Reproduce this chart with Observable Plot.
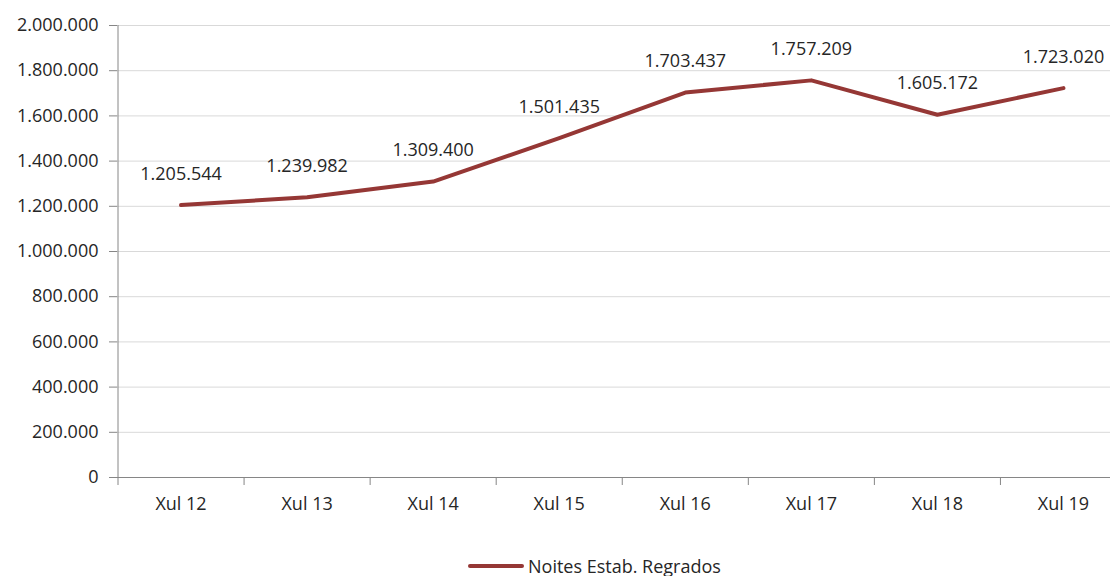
<!DOCTYPE html>
<html><head><meta charset="utf-8">
<script src="https://cdn.jsdelivr.net/npm/d3@7"></script>
<script src="https://cdn.jsdelivr.net/npm/@observablehq/plot@0.6"></script>
<style>
body{margin:0;background:#fff;font-family:"Open Sans",sans-serif;}
#legend{display:flex;align-items:center;margin-left:468px;margin-top:36px;height:20px;font-size:18px;color:#262626;}
#legend span{margin-left:4px;}
</style></head><body>
<div id="chart"></div>
<div id="legend"><svg width="56" height="8"><line x1="2" y1="4" x2="54" y2="4" stroke="#953735" stroke-width="4" stroke-linecap="round"/></svg><span>Noites Estab. Regrados</span></div>
<script>
const categories = ["Xul 12","Xul 13","Xul 14","Xul 15","Xul 16","Xul 17","Xul 18","Xul 19"];
const values = [1205544, 1239982, 1309400, 1501435, 1703437, 1757209, 1605172, 1723020];
const yTicks = [0,200000,400000,600000,800000,1000000,1200000,1400000,1600000,1800000,2000000];
const seriesName = "Noites Estab. Regrados";

const pt = d3.formatLocale({decimal:",", thousands:".", grouping:[3], currency:["",""]});
const fmt = pt.format(",");
const data = categories.map((c,i)=>({i, c, v: values[i]}));
const boundaries = d3.range(categories.length+1).map(k=>k-0.5);

const chart = Plot.plot({
  width: 1110,
  height: 520,
  marginTop: 25,
  marginBottom: 43,
  marginLeft: 117,
  marginRight: 0,
  style: {fontFamily:"Open Sans, sans-serif", fontSize:"18px", color:"#262626", background:"#fff"},
  x: {type:"linear", domain:[-0.5, categories.length-0.5], range:[117.5, 1126]},
  y: {domain:[0, 2000000]},
  marks: [
    Plot.gridY(yTicks, {stroke:"#d9d9d9", strokeOpacity:1}),
    Plot.axisY(yTicks, {tickSize:8, tickPadding:11, tickFormat:fmt, stroke:"#868686", fontSize:18, label:null}),
    Plot.axisX(boundaries, {tickSize:8, tickFormat:()=>"", stroke:"#868686", label:null}),
    Plot.axisX(d3.range(categories.length), {tickSize:0, tickPadding:20, tickFormat:i=>categories[i], fontSize:18, label:null}),
    Plot.ruleX([-0.5], {stroke:"#868686"}),
    Plot.ruleY([0], {stroke:"#868686"}),
    Plot.line(data, {x:"i", y:"v", stroke:"#953735", strokeWidth:4, strokeLinejoin:"round", strokeLinecap:"round"}),
    Plot.text(data, {x:"i", y:"v", text:d=>fmt(d.v), dy:-31, fontSize:18, fill:"#262626"})
  ]
});
document.getElementById("chart").append(chart);
</script>
</body></html>
